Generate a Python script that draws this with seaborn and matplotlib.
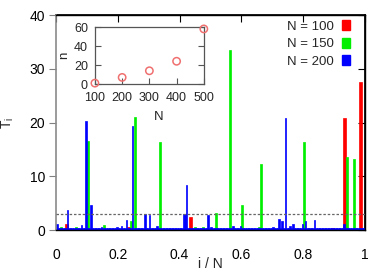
import numpy as np
import pandas as pd
import matplotlib
matplotlib.use("Agg")
import matplotlib.pyplot as plt
import seaborn as sns
from matplotlib.patches import Patch

# ---------------- data ----------------
# T_i for N = 100 (index i = 0..99, bar spans i/N .. (i+1)/N)
T_N100 = [
    0.2, 0.2, 0.2, 1.1, 0.2, 0.2, 0.2, 0.2, 0.2, 0.2,
    0.2, 0.2, 0.2, 0.2, 0.2, 0.2, 0.2, 0.2, 0.2, 0.2,
    0.2, 0.2, 0.2, 0.6, 0.2, 0.2, 0.2, 0.2, 0.2, 0.2,
    0.2, 0.2, 0.2, 0.2, 0.2, 0.2, 0.2, 0.2, 0.2, 0.2,
    0.2, 0.2, 0.2, 2.4, 0.2, 0.2, 0.2, 0.2, 0.2, 0.2,
    0.2, 0.2, 0.2, 0.2, 0.2, 0.2, 0.2, 0.2, 0.2, 0.2,
    0.2, 0.2, 0.2, 0.2, 0.2, 0.2, 0.2, 0.2, 0.2, 0.2,
    0.2, 0.2, 0.2, 0.2, 0.2, 0.2, 0.2, 0.2, 0.2, 0.2,
    0.2, 0.2, 0.2, 0.2, 0.2, 0.2, 0.2, 0.2, 0.2, 0.4,
    0.2, 0.2, 0.2, 20.9, 0.2, 0.2, 0.2, 0.2, 27.5, 0.2,
]
# T_i for N = 150
T_N150 = [
    0.2, 0.2, 0.5, 0.2, 0.2, 0.2, 0.2, 0.2, 0.2, 0.5,
    0.2, 0.2, 0.2, 0.2, 0.2, 16.6, 0.2, 0.2, 0.2, 0.2,
    0.2, 0.2, 0.2, 1.0, 0.2, 0.2, 0.2, 0.2, 0.2, 0.2,
    0.2, 0.2, 0.2, 0.2, 0.2, 0.2, 1.6, 0.2, 21.1, 0.2,
    0.2, 0.2, 0.2, 0.2, 0.2, 0.2, 0.2, 0.2, 0.2, 0.2,
    16.3, 0.2, 0.2, 0.2, 0.2, 0.2, 0.2, 0.2, 0.2, 0.2,
    0.2, 0.2, 0.2, 0.2, 0.2, 0.2, 0.2, 0.6, 0.2, 0.2,
    0.2, 0.5, 0.2, 0.2, 0.2, 0.2, 0.2, 3.1, 0.2, 0.2,
    0.2, 0.2, 0.2, 0.2, 33.5, 0.2, 0.2, 0.2, 0.2, 0.2,
    4.7, 0.2, 0.2, 0.2, 0.2, 0.2, 0.2, 0.2, 0.6, 12.2,
    0.2, 0.2, 0.2, 0.2, 0.2, 0.2, 0.2, 0.2, 0.2, 0.2,
    0.2, 0.2, 0.2, 0.2, 0.2, 0.2, 0.2, 0.2, 0.2, 0.2,
    16.4, 0.2, 0.2, 0.2, 0.2, 0.2, 0.2, 0.2, 0.2, 0.2,
    0.2, 0.2, 0.2, 0.2, 0.2, 0.2, 0.2, 0.2, 0.2, 0.2,
    0.2, 13.5, 0.2, 0.2, 13.2, 0.2, 0.2, 0.2, 0.2, 0.2,
]
# T_i for N = 200
T_N200 = [
    1.1, 0.3, 0.3, 0.3, 0.3, 0.3, 0.3, 3.7, 0.3, 0.3,
    0.3, 0.3, 0.3, 0.3, 0.3, 0.3, 1.0, 0.3, 0.3, 20.3,
    0.3, 0.3, 4.7, 0.3, 0.3, 0.3, 0.3, 0.3, 0.3, 0.6,
    0.3, 0.3, 0.3, 0.3, 0.3, 0.3, 0.3, 0.3, 0.3, 0.5,
    0.3, 0.3, 0.7, 0.3, 0.3, 1.9, 0.3, 0.3, 0.3, 19.4,
    0.3, 0.3, 0.3, 0.3, 0.3, 0.3, 0.3, 3.0, 0.3, 0.3,
    2.8, 0.3, 0.3, 0.3, 0.3, 0.8, 0.3, 0.3, 0.3, 0.3,
    0.3, 0.3, 0.3, 0.3, 0.3, 0.3, 0.3, 0.3, 0.3, 0.3,
    0.3, 0.3, 3.0, 3.0, 8.3, 0.3, 0.3, 0.3, 0.3, 0.3,
    0.3, 0.3, 0.3, 0.3, 0.3, 0.3, 0.3, 0.3, 2.7, 0.3,
    0.5, 0.3, 0.3, 0.3, 0.3, 0.3, 0.3, 0.3, 0.3, 0.3,
    0.3, 0.3, 0.3, 0.3, 0.8, 0.3, 0.3, 0.3, 0.3, 0.7,
    0.3, 0.3, 0.3, 0.3, 0.3, 0.3, 0.3, 0.3, 0.3, 0.3,
    0.3, 0.3, 0.3, 0.3, 0.3, 0.3, 0.3, 0.3, 0.3, 0.3,
    0.6, 0.3, 0.3, 0.3, 2.0, 0.3, 1.6, 0.3, 20.8, 0.3,
    0.3, 0.8, 0.3, 1.1, 0.3, 0.3, 0.3, 0.3, 0.3, 1.2,
    0.3, 1.7, 0.3, 0.3, 0.3, 0.3, 0.3, 1.8, 0.3, 0.3,
    0.3, 0.3, 0.3, 0.3, 0.3, 0.3, 0.3, 0.3, 0.3, 0.3,
    0.3, 0.3, 0.3, 0.3, 0.3, 0.3, 1.2, 0.3, 0.3, 0.3,
    0.3, 0.3, 0.3, 0.3, 0.3, 0.3, 0.3, 0.3, 0.3, 0.3,
]
SERIES_LABELS = ["N = 100", "N = 150", "N = 200"]
SERIES_N = [100, 150, 200]
THRESHOLD = 3.0

# inset
INSET_N = [100, 200, 300, 400, 500]
INSET_n = [1, 7, 14, 24, 58]

X_TICKS = [0, 0.2, 0.4, 0.6, 0.8, 1.0]
X_TICKLABELS = ["0", "0.2", "0.4", "0.6", "0.8", "1"]
Y_TICKS = [0, 10, 20, 30, 40]

# ---------------- style ----------------
sns.set_theme(style="ticks")
plt.rcParams["font.family"] = ["Liberation Sans", "DejaVu Sans"]
plt.rcParams["mathtext.fontset"] = "custom"
plt.rcParams["mathtext.rm"] = "Liberation Sans"
plt.rcParams["mathtext.it"] = "Liberation Sans:italic"

COLORS = ["#ff0000", "#00ee00", "#0000ff"]

fig = plt.figure(figsize=(3.89, 2.73), dpi=100)
ax = fig.add_axes([0.144, 0.1575, 0.794, 0.7875])

for N, vals, col in zip(SERIES_N, [T_N100, T_N150, T_N200], COLORS):
    df = pd.DataFrame({"pos": (np.arange(N) + 0.5) / N, "T": vals})
    sns.histplot(data=df, x="pos", weights="T", bins=N, binrange=(0, 1),
                 color=col, alpha=1, element="bars", fill=True,
                 linewidth=0.5, edgecolor=col, ax=ax)

ax.axhline(THRESHOLD, color="#666666", ls=(0, (2, 1.5)), lw=0.9, zorder=5)

ax.set_xlim(0, 1)
ax.set_ylim(0, 40)
ax.set_xticks(X_TICKS)
ax.set_xticklabels(X_TICKLABELS)
ax.set_yticks(Y_TICKS)
ax.tick_params(axis="x", bottom=False, labelsize=10, pad=7, colors="black")
ax.tick_params(axis="y", left=True, direction="out", length=5, width=0.8,
               labelsize=10, pad=3, color="#808080", labelcolor="black")
for s in ["top", "right", "bottom"]:
    ax.spines[s].set_color("black")
    ax.spines[s].set_linewidth(1.0)
ax.spines["left"].set_color("#8a8a8a")
ax.spines["left"].set_linewidth(1.2)

sec_r = ax.secondary_yaxis("right")
sec_r.set_yticks(Y_TICKS)
sec_r.tick_params(direction="in", length=5, width=0.8, labelright=False, color="black")
sec_r.spines["right"].set_color("black")
sec_t = ax.secondary_xaxis("top")
sec_t.set_xticks(X_TICKS)
sec_t.tick_params(direction="in", length=5, width=0.8, labeltop=False, color="black")
sec_t.spines["top"].set_color("black")

ax.set_xlabel("i / N", fontsize=10)
ax.set_ylabel("T$_{\\rm i}$", fontsize=10)
ax.xaxis.set_label_coords(0.5, -0.125)
ax.yaxis.set_label_coords(-0.128, 0.5)

handles = [Patch(facecolor=c, edgecolor=c) for c in COLORS]
leg = ax.legend(handles, SERIES_LABELS, loc="upper right",
                bbox_to_anchor=(0.952, 0.975), frameon=False, markerfirst=False,
                fontsize=9.5, handlelength=0.6, handleheight=0.75,
                handletextpad=0.6, labelspacing=0.38, borderpad=0,
                borderaxespad=0)

# ---------------- inset ----------------
ins = fig.add_axes([0.244, 0.692, 0.280, 0.209])
ins.set_facecolor("white")
sns.scatterplot(x=INSET_N, y=INSET_n, marker="o", s=28, facecolors="none",
                edgecolors="#f07070", linewidths=1.1, ax=ins, clip_on=False,
                zorder=5)
ins.set_xlim(100, 500)
ins.set_ylim(0, 60)
ins.set_xticks(INSET_N)
ins.set_yticks([0, 20, 40, 60])
ins.tick_params(axis="both", direction="in", length=4, width=0.8,
                labelsize=9, color="#555555")
ins.tick_params(axis="x", pad=6)
ins.tick_params(axis="y", pad=5, right=True)
for s in ins.spines.values():
    s.set_color("#555555")
    s.set_linewidth(0.9)
ins.set_xlabel("N", fontsize=9.5)
ins.set_ylabel("n", fontsize=9.5)
ins.xaxis.set_label_coords(0.59, -0.48)
ins.yaxis.set_label_coords(-0.23, 0.5)

fig.savefig("out.png", dpi=100)
